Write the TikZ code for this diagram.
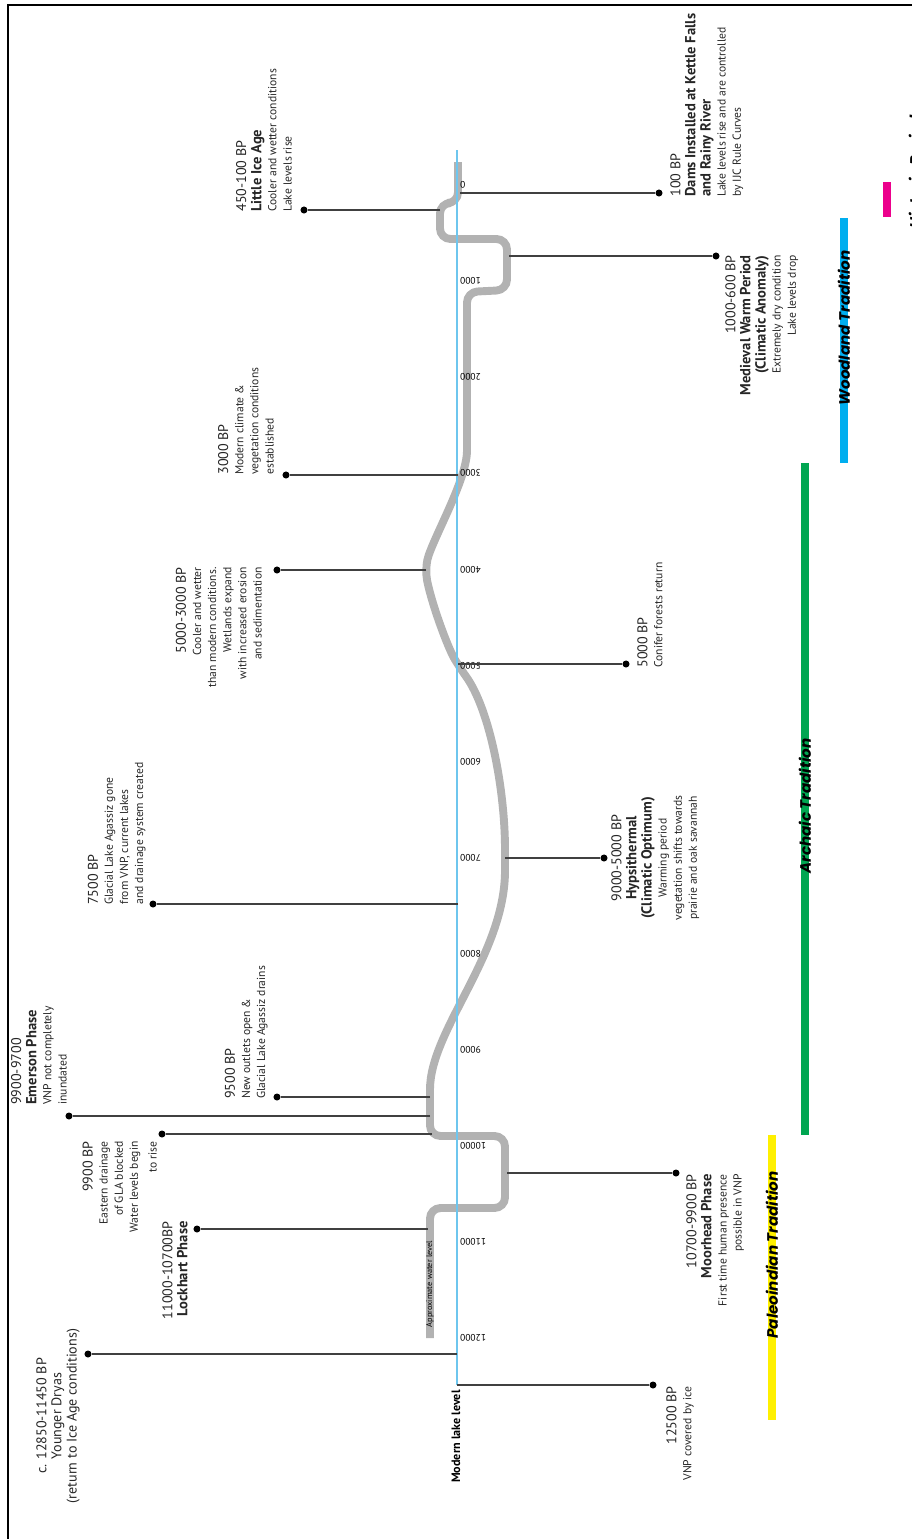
\documentclass[tikz,border=0pt]{standalone}
\usepackage{fontspec}
\setmainfont{PT Sans}
\newfontfamily\tradfont{Poppins}
\usetikzlibrary{positioning}
\definecolor{axisblue}{RGB}{110,198,238}
\definecolor{woodblue}{RGB}{0,174,239}
\definecolor{archgreen}{RGB}{0,166,81}
\definecolor{paleoyellow}{RGB}{255,240,0}
\definecolor{histpink}{RGB}{236,0,140}
\newcommand{\dateln}{\fontsize{8}{8.6}\selectfont}
\newcommand{\titleln}{\fontsize{8.3}{9.2}\selectfont\bfseries}
\newcommand{\smallln}{\fontsize{6.6}{7}\selectfont}
\tikzset{
	lake/.style={draw=gray!60, line width=4.5pt, rounded corners=6pt}, % lake level curve
	axis/.style={draw=axisblue, line width=1.2pt}, % modern lake level
	leader/.style={draw=black!75, line width=0.8pt}, % line from curve to event
	dot/.style={circle, fill=black, inner sep=0pt, minimum size=4pt},
	event/.style={rotate=90, inner sep=0pt, font=\dateln, text=black!85},
	tick/.style={rotate=180, anchor=east, inner sep=0.5pt, font=\fontsize{5.4}{6}\selectfont},
	era/.style={line width=4.5pt}, % tradition bars
	eralabel/.style={rotate=90, inner sep=0pt, font=\tradfont\bfseries\itshape\fontsize{8.6}{10}\selectfont},
}

\begin{document}
\begin{tikzpicture}[x=0.02cm, y=-0.02cm]
	\useasboundingbox (0,0) rectangle (912,1539);
	\draw[line width=1pt] (8,1560) -- (8,5) -- (930,5);

	% lake level through time
	\draw[lake] (458,162) -- (458,203) -- (440,203) -- (440,239) -- (507,239) -- (507,290) -- (467,292) -- (467,440)
		.. controls (467,480) and (432,540) .. (425,570)
		.. controls (432,605) and (448,648) .. (460,668)
		.. controls (490,710) and (505,790) .. (505,860)
		.. controls (505,955) and (430,1030) .. (430,1100)
		-- (430,1136) -- (505,1136) -- (505,1208) -- (430,1208) -- (430,1338);
	\node[rotate=90, inner sep=0pt, font=\fontsize{4.7}{5}\selectfont] (approx) at (430,1284) {Approximate water level};

	% modern level axis
	\coordinate (axtop) at (457,150);
	\coordinate (axbot) at (457,1385);
	\draw[axis] (axtop) -- (axbot);
	\foreach \k in {0,...,12}
		\node[tick] (t\k) at (459,{185+96.1*\k}) {\ifnum\k=0 0\else\k000\fi};
	\node[rotate=90, anchor=east, inner sep=0pt, font=\bfseries\fontsize{6.9}{8}\selectfont] (modern) at (456,1390) {Modern lake level};

	% event dots
	\node[dot] (liaDot) at (304,210) {};
	\node[dot] (damsDot) at (659,193) {};
	\node[dot] (mwpDot) at (716,256) {};
	\node[dot] (modDot) at (286,475) {};
	\node[dot] (coolDot) at (277,570) {};
	\node[dot] (conDot) at (626,664) {};
	\node[dot] (glaDot) at (153,904) {};
	\node[dot] (hypDot) at (604,858) {};
	\node[dot] (outDot) at (277,1097) {};
	\node[dot] (emeDot) at (69,1116) {};
	\node[dot] (draDot) at (162,1134) {};
	\node[dot] (mooDot) at (676,1173) {};
	\node[dot] (lockDot) at (197,1229) {};
	\node[dot] (ydDot) at (88,1354) {};
	\node[dot] (iceDot) at (653,1385) {};

	% where the lines meet the curve or the axis
	\coordinate (liaEnd) at (440,210);
	\coordinate (damsEnd) at (460,193);
	\coordinate (mwpEnd) at (509,256);
	\coordinate (modEnd) at (458,475);
	\coordinate (coolEnd) at (426,570);
	\coordinate (conEnd) at (458,664);
	\coordinate (glaEnd) at (458,904);
	\coordinate (hypEnd) at (505,858);
	\coordinate (outEnd) at (430,1097);
	\coordinate (emeEnd) at (430,1116);
	\coordinate (draEnd) at (432,1134);
	\coordinate (mooEnd) at (507,1173);
	\coordinate (lockEnd) at (428,1229);
	\coordinate (ydEnd) at (457,1354);

	\foreach \ev in {lia,dams,mwp,mod,cool,con,gla,hyp,out,eme,dra,moo,lock,yd}
		\draw[leader] (\ev End) -- (\ev Dot);
	\draw[leader] (axbot) -- (iceDot);

	% event texts
	\node[event, anchor=south west, align=left] (lia) at (292,212)
		{450-100 BP\\ {\titleln Little Ice Age}\\ {\smallln Cooler and wetter conditions}\\ {\smallln Lake levels rise}};
	\node[event, anchor=north west, align=left] (dams) at (670,197)
		{100 BP\\ {\titleln Dams Installed at Kettle Falls}\\ {\titleln and Rainy River}\\ {\smallln Lake levels rise and are controlled}\\ {\smallln by IJC Rule Curves}};
	\node[event, anchor=north east, align=right] (mwp) at (725,255)
		{1000-600 BP\\ {\titleln Medieval Warm Period}\\ {\titleln (Climatic Anomaly)}\\ {\smallln Extremely dry condition}\\ {\smallln Lake levels drop}};
	\node[event, anchor=south west, align=left] (mod) at (274,475)
		{3000 BP\\ {\smallln Modern climate \&}\\ {\smallln vegetation conditions}\\ {\smallln established}};
	\node[event, anchor=south east, align=right] (cool) at (262,567)
		{5000-3000 BP\\ {\smallln Cooler and wetter}\\ {\smallln than modern conditions.}\\ {\smallln Wetlands expand}\\ {\smallln with increased erosion}\\ {\smallln and sedimentation}};
	\node[event, anchor=north west, align=left] (con) at (637,668)
		{5000 BP\\ {\smallln Conifer forests return}};
	\node[event, anchor=north, align=center] (hyp) at (611,858)
		{9000-5000 BP\\ {\titleln Hypsithermal}\\ {\titleln (Climatic Optimum)}\\ {\smallln Warming period}\\ {\smallln vegetation shifts towards}\\ {\smallln prairie and oak savannah}};
	\node[event, anchor=south west, align=left] (gla) at (146,905)
		{7500 BP\\ {\smallln Glacial Lake Agassiz gone}\\ {\smallln from VNP, current lakes}\\ {\smallln and drainage system created}};
	\node[event, anchor=south west, align=left] (out) at (268,1099)
		{9500 BP\\ {\smallln New outlets open \&}\\ {\smallln Glacial Lake Agassiz drains}};
	\node[event, anchor=south west, align=left] (eme) at (67,1105)
		{9900-9700\\ {\titleln Emerson Phase}\\ {\smallln VNP not completely}\\ {\smallln inundated}};
	\node[event, anchor=south east, align=right] (dra) at (157,1141)
		{9900 BP\\ {\smallln Eastern drainage}\\ {\smallln of GLA blocked}\\ {\smallln Water levels begin}\\[2pt] {\smallln to rise}};
	\node[event, anchor=north east, align=right] (moo) at (686,1174)
		{10700-9900 BP\\ {\titleln Moorhead Phase}\\ {\smallln First time human presence}\\ {\smallln possible in VNP}};
	\node[event, anchor=south east, align=right] (lock) at (188,1221)
		{11000-10700BP\\ {\titleln Lockhart Phase}};
	\node[event, anchor=south, align=center] (yd) at (80,1416)
		{c. 12850-11450 BP\\ Younger Dryas\\ (return to Ice Age conditions)};
	\node[event, anchor=north east, align=right] (ice) at (666,1386)
		{12500 BP\\ {\smallln VNP covered by ice}};

	% cultural traditions
	\draw[era, draw=paleoyellow] (772,1135) -- (772,1420);
	\draw[era, draw=archgreen] (805,463) -- (805,1135);
	\draw[era, draw=woodblue] (844,218) -- (844,463);
	\draw[era, draw=histpink] (887,182) -- (887,217);
	\node[eralabel] (paleo) at (772,1255) {Paleoindian Tradition};
	\node[eralabel] (archaic) at (805,806) {Archaic Tradition};
	\node[eralabel] (woodland) at (844,328) {Woodland Tradition};
	\node[eralabel] (historic) at (915,172) {Historic Period};
\end{tikzpicture}
\end{document}
